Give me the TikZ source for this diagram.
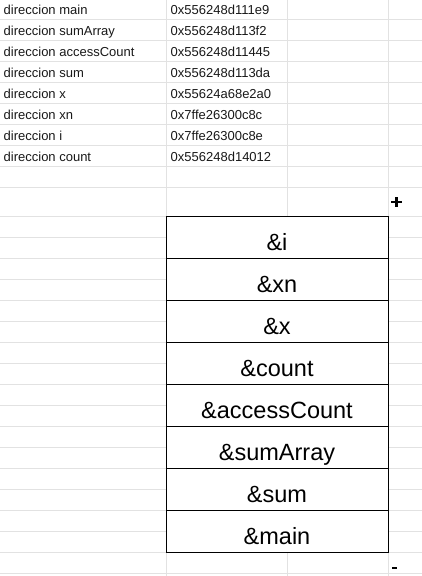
\documentclass[tikz,border=0pt]{standalone}
\usepackage{fontspec}
\setmainfont{Liberation Sans}
\definecolor{gridc}{HTML}{E2E2E2}
\tikzset{
  gridline/.style={draw=gridc, line width=1pt},
  boxline/.style={draw=black, line width=1pt},
  cell/.style={anchor=base west, inner sep=0pt, font=\fontsize{13}{15}\selectfont, text=black!90},
  stack/.style={anchor=base, inner sep=0pt, font=\fontsize{23.5}{27}\selectfont, text=black}
}
\begin{document}
\begin{tikzpicture}[x=1pt,y=-1pt]
\useasboundingbox (0,0) rectangle (422,576);
\fill[white] (0,0) rectangle (422,576);
% horizontal grid lines, upper part
\foreach \y in {19,40,61,82,103,124,145,166,187} {
  \draw[gridline] (0,\y) -- (422,\y);
}
% horizontal grid lines, lower part (outside box)
\foreach \y in {216,237,258,279,300,321,342,363,384,405,426,447,468,489,510,531,552,573} {
  \draw[gridline] (0,\y) -- (166,\y);
  \draw[gridline] (388,\y) -- (422,\y);
}
\draw[gridline] (166,573) -- (388,573);
% vertical grid lines
\draw[gridline] (166,0) -- (166,576);
\draw[gridline] (287,0) -- (287,216);
\draw[gridline] (287,552) -- (287,576);
\draw[gridline] (388,0) -- (388,576);

% table text
\node[cell] (n1) at (3.5,14) {direccion main};
\node[cell] (n2) at (3.5,35) {direccion sumArray};
\node[cell] (n3) at (3.5,56) {direccion accessCount};
\node[cell] (n4) at (3.5,77) {direccion sum};
\node[cell] (n5) at (3.5,98) {direccion x};
\node[cell] (n6) at (3.5,119) {direccion xn};
\node[cell] (n7) at (3.5,140) {direccion i};
\node[cell] (n8) at (3.5,161) {direccion count};
\node[cell] (a1) at (170.5,14) {0x556248d111e9};
\node[cell] (a2) at (170.5,35) {0x556248d113f2};
\node[cell] (a3) at (170.5,56) {0x556248d11445};
\node[cell] (a4) at (170.5,77) {0x556248d113da};
\node[cell] (a5) at (170.5,98) {0x55624a68e2a0};
\node[cell] (a6) at (170.5,119) {0x7ffe26300c8c};
\node[cell] (a7) at (170.5,140) {0x7ffe26300c8e};
\node[cell] (a8) at (170.5,161) {0x556248d14012};

% stack box
\draw[boxline] (166,216) rectangle (388,552);
\foreach \y in {258,300,342,384,426,468,510} {
  \draw[boxline] (166,\y) -- (388,\y);
}
\node[stack] (s1) at (277,250.5) {\&i};
\node[stack] (s2) at (277,292.5) {\&xn};
\node[stack] (s3) at (277,334.5) {\&x};
\node[stack] (s4) at (277,376.5) {\&count};
\node[stack] (s5) at (277,418.5) {\&accessCount};
\node[stack] (s6) at (277,460.5) {\&sumArray};
\node[stack] (s7) at (277,502.5) {\&sum};
\node[stack] (s8) at (277,544.5) {\&main};

% plus and minus marks
\fill[black] (391,200.8) rectangle (402,203.2);
\fill[black] (395.3,197) rectangle (397.7,207);
\fill[black] (392,567) rectangle (397,569.3);
\end{tikzpicture}
\end{document}
